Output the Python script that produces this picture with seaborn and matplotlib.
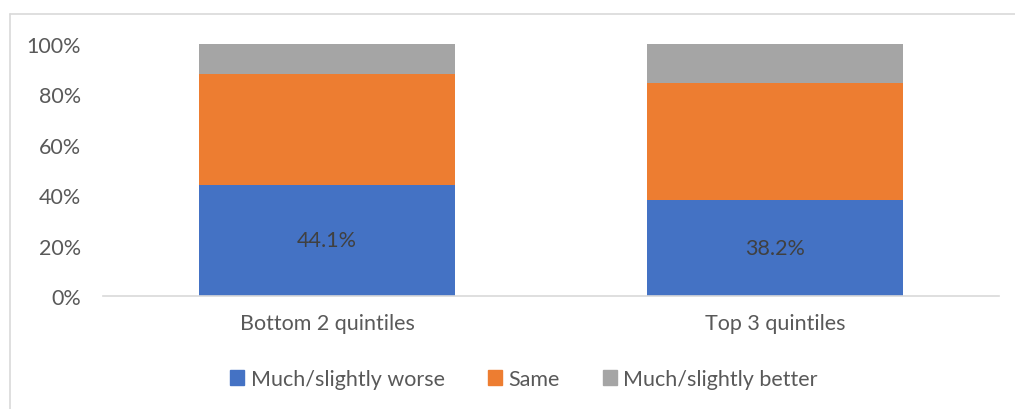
import matplotlib
matplotlib.use("Agg")
import matplotlib.pyplot as plt
import seaborn as sns
import pandas as pd
import numpy as np

categories = ["Bottom 2 quintiles", "Top 3 quintiles"]
series_names = ["Much/slightly worse", "Same", "Much/slightly better"]
worse = [44.1, 38.2]
same = [43.9, 46.2]
better = [12.0, 15.6]
yticks = [0, 20, 40, 60, 80, 100]
ytick_labels = ["0%", "20%", "40%", "60%", "80%", "100%"]
colors = ["#4472C4", "#ED7D31", "#A5A5A5"]

sns.set_theme(style="white")
plt.rcParams["font.family"] = ["Lato", "DejaVu Sans"]

FS = 15.5
W, H = 1015, 410
fig = plt.figure(figsize=(W / 100, H / 100), dpi=100)
ax = fig.add_axes([103 / W, (H - 297) / H, (999 - 103) / W, (297 - 45) / H])

df = pd.DataFrame({"cat": categories, "worse": worse, "same": same, "better": better})
df["c_same"] = df["worse"] + df["same"]
df["c_better"] = df["c_same"] + df["better"]

layers = [("c_better", colors[2]), ("c_same", colors[1]), ("worse", colors[0])]
for col, c in layers:
    sns.barplot(data=df, x="cat", y=col, color=c, width=0.571, ax=ax,
                saturation=1, errorbar=None, edgecolor="none", linewidth=0)

blue_container = ax.containers[-1]
ax.bar_label(blue_container, labels=[f"{v:.1f}%" for v in worse],
             label_type="center", color="#404040", fontsize=FS)

ax.set_ylim(0, 100)
ax.set_xlim(-0.5, 1.5)
ax.set_yticks(yticks)
ax.set_yticklabels(ytick_labels)
ax.set_xlabel("")
ax.set_ylabel("")
ax.tick_params(axis="y", length=0, pad=16, labelsize=FS, labelcolor="#595959")
ax.tick_params(axis="x", length=0, pad=12, labelsize=FS, labelcolor="#595959")
for s in ["top", "right", "left"]:
    ax.spines[s].set_visible(False)
ax.spines["bottom"].set_color("#D9D9D9")
ax.spines["bottom"].set_linewidth(1.2)

handles = [plt.Rectangle((0, 0), 1, 1, color=c) for c in colors]
fig.legend(handles, series_names, loc="center", bbox_to_anchor=(524 / W, 1 - 380 / H),
           ncol=3, frameon=False, fontsize=FS, labelcolor="#595959",
           handlelength=0.65, handleheight=0.65, handletextpad=0.3, columnspacing=2.0)

# chart area border (top and left visible)
fig.add_artist(plt.Line2D([10 / W, 1.0], [1 - 15 / H, 1 - 15 / H], color="#D9D9D9", lw=1.2,
                          transform=fig.transFigure))
fig.add_artist(plt.Line2D([10 / W, 10 / W], [0, 1 - 15 / H], color="#D9D9D9", lw=1.2,
                          transform=fig.transFigure))

fig.savefig("out.png", dpi=100, facecolor="white")
